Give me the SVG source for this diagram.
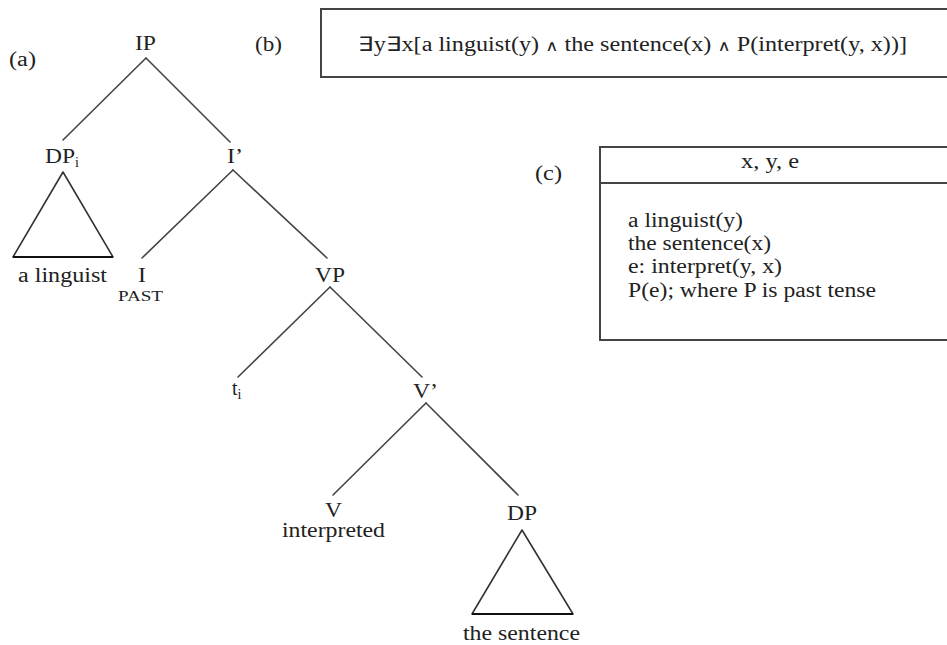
<svg xmlns="http://www.w3.org/2000/svg" width="947" height="645" viewBox="0 0 947 645">
<style>
text{font-family:"Liberation Serif","Times New Roman",serif;font-size:20px;fill:#222}
.sm{font-size:15px}
.sub{font-size:14px}
.op{font-family:"DejaVu Sans ExtraLight","DejaVu Sans",sans-serif;font-size:15px}
.edge{stroke:#444;stroke-width:1.6;fill:none;stroke-linecap:round}
.tri{stroke:#333;stroke-width:1.6;fill:none;stroke-linejoin:round}
.base{stroke:#111;stroke-width:2.2}
.box{stroke:#444;stroke-width:2;fill:#fff}
</style>
<rect width="947" height="645" fill="#fff"/>

<g id="labels">
<text x="9" y="66" textLength="27" lengthAdjust="spacingAndGlyphs">(a)</text>
<text x="255" y="51" textLength="27" lengthAdjust="spacingAndGlyphs">(b)</text>
<text x="535" y="180" textLength="27" lengthAdjust="spacingAndGlyphs">(c)</text>
</g>

<g id="box-b">
<rect class="box" x="321" y="9" width="640" height="68"/>
<text x="358" y="51" textLength="549" lengthAdjust="spacingAndGlyphs">∃y∃x[a linguist(y) <tspan class="op">∧</tspan> the sentence(x) <tspan class="op">∧</tspan> P(interpret(y, x))]</text>
</g>

<g id="box-c">
<rect class="box" x="600" y="147" width="360" height="193"/>
<line class="box" x1="600" y1="183" x2="960" y2="183"/>
<text x="770" y="168" text-anchor="middle" textLength="58" lengthAdjust="spacingAndGlyphs">x, y, e</text>
<text x="628" y="227" textLength="115" lengthAdjust="spacingAndGlyphs">a linguist(y)</text>
<text x="628" y="250" textLength="143" lengthAdjust="spacingAndGlyphs">the sentence(x)</text>
<text x="628" y="273" textLength="154" lengthAdjust="spacingAndGlyphs">e: interpret(y, x)</text>
<text x="628" y="297" textLength="248" lengthAdjust="spacingAndGlyphs">P(e); where P is past tense</text>
</g>

<g id="connectors">
<line class="edge" x1="146" y1="58" x2="63" y2="140"/>
<line class="edge" x1="146" y1="58" x2="230" y2="142"/>
<line class="edge" x1="233" y1="170" x2="142" y2="258"/>
<line class="edge" x1="233" y1="170" x2="327" y2="258"/>
<line class="edge" x1="330" y1="287" x2="238" y2="377"/>
<line class="edge" x1="330" y1="287" x2="422" y2="377"/>
<line class="edge" x1="426" y1="403" x2="333" y2="495"/>
<line class="edge" x1="426" y1="403" x2="518" y2="495"/>
</g>

<g id="node-IP">
<text x="135" y="50" textLength="21" lengthAdjust="spacingAndGlyphs">IP</text>
</g>
<g id="node-DPi">
<text x="45" y="163"><tspan textLength="30" lengthAdjust="spacingAndGlyphs">DP</tspan><tspan class="sub" dy="4">i</tspan></text>
<polygon class="tri" points="63,172 13,257 113,257"/>
<line class="base" x1="13" y1="257" x2="113" y2="257"/>
<text x="18" y="282" textLength="89" lengthAdjust="spacingAndGlyphs">a linguist</text>
</g>
<g id="node-Ibar">
<text x="227" y="163" textLength="16" lengthAdjust="spacingAndGlyphs">I’</text>
</g>
<g id="node-I">
<text x="138" y="282" textLength="8" lengthAdjust="spacingAndGlyphs">I</text>
<text class="sm" x="118" y="301" textLength="45" lengthAdjust="spacingAndGlyphs">PAST</text>
</g>
<g id="node-VP">
<text x="315" y="282" textLength="30" lengthAdjust="spacingAndGlyphs">VP</text>
</g>
<g id="node-ti">
<text x="232" y="395">t<tspan class="sub" dy="4">i</tspan></text>
</g>
<g id="node-Vbar">
<text x="413" y="398" textLength="25" lengthAdjust="spacingAndGlyphs">V’</text>
</g>
<g id="node-V">
<text x="325" y="517" textLength="17" lengthAdjust="spacingAndGlyphs">V</text>
<text x="282" y="537" textLength="103" lengthAdjust="spacingAndGlyphs">interpreted</text>
</g>
<g id="node-DP">
<text x="507" y="520" textLength="30" lengthAdjust="spacingAndGlyphs">DP</text>
<polygon class="tri" points="522,530 472,614 573,614"/>
<line class="base" x1="472" y1="614" x2="573" y2="614"/>
<text x="463" y="640" textLength="117" lengthAdjust="spacingAndGlyphs">the sentence</text>
</g>
</svg>
